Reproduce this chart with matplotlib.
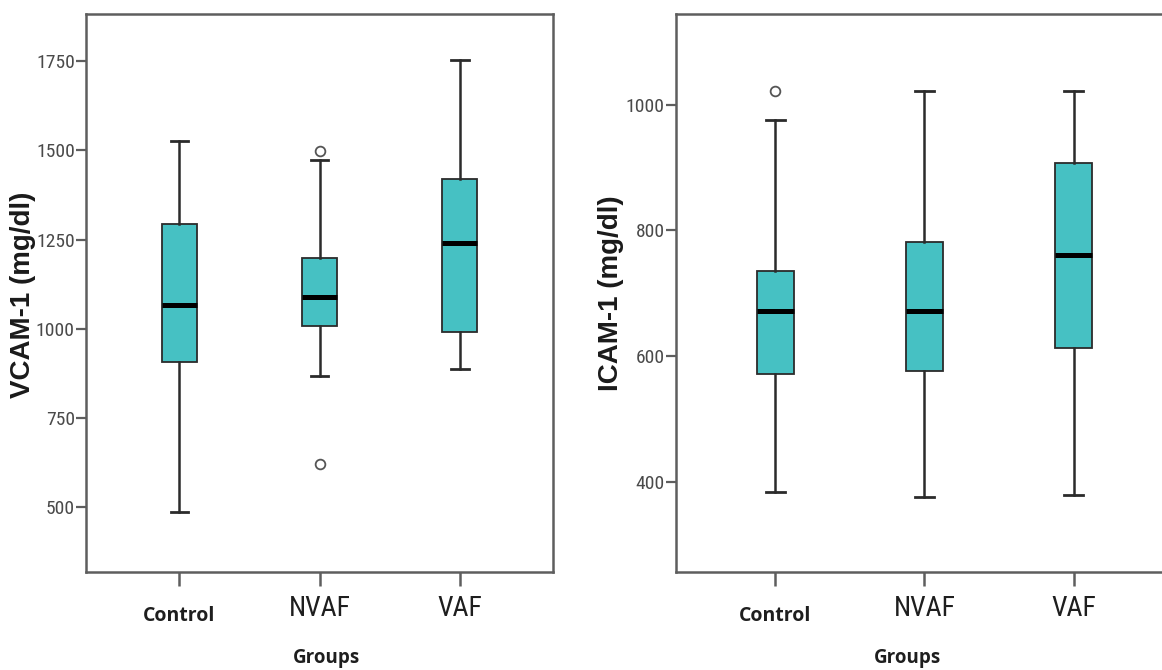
import matplotlib
matplotlib.use("Agg")
import os
import matplotlib.pyplot as plt
from matplotlib import font_manager
from matplotlib.font_manager import FontProperties

# ---------------- data ----------------
groups = ["Control", "NVAF", "VAF"]

vcam_whislo = [486, 868, 887]
vcam_q1 = [908, 1008, 990]
vcam_med = [1067, 1090, 1242]
vcam_q3 = [1294, 1198, 1419]
vcam_whishi = [1527, 1473, 1753]
vcam_fliers = [[], [1497, 622], []]

icam_whislo = [384, 375, 379]
icam_q1 = [571, 576, 612]
icam_med = [671, 672, 760]
icam_q3 = [736, 782, 908]
icam_whishi = [976, 1022, 1022]
icam_fliers = [[1022], [], []]

vcam_ticks = [500, 750, 1000, 1250, 1500, 1750]
icam_ticks = [400, 600, 800, 1000]

# ---------------- fonts ----------------
ttf = font_manager.fontManager.ttflist
available = {f.name for f in ttf}


def pick(*names):
    for n in names:
        if n in available:
            return n
    return "DejaVu Sans"


def narrow_file():
    files = [f.fname for f in ttf]
    bad = ("bold", "italic", "oblique", "light", "thin", "medium", "black")
    prefs = [
        lambda b: "liberationsansnarrow-regular" in b,
        lambda b: "robotocondensed-regular" in b,
        lambda b: "condensed" in b and "roboto" in b and not any(k in b for k in bad),
        lambda b: "opensans" in b and "condensed" in b and not any(k in b for k in bad),
        lambda b: b.startswith("dejavusanscondensed."),
        lambda b: "narrow" in b and not any(k in b for k in bad),
        lambda b: "condensed" in b and not any(k in b for k in bad),
    ]
    for p in prefs:
        for fn in files:
            b = os.path.basename(fn).lower().replace(" ", "").replace("_", "")
            if p(b):
                return fn
    return None


NFILE = narrow_file()


def narrow(size):
    if NFILE:
        return FontProperties(fname=NFILE, size=size)
    return FontProperties(family=pick("Liberation Sans", "DejaVu Sans"),
                          stretch="condensed", size=size)


ARIAL = pick("Liberation Sans", "Arial", "DejaVu Sans")
CALIBRI = pick("Open Sans", "Lato", "DejaVu Sans")

FILL = "#46C1C3"
EDGE = "#2b2b2b"
FRAME = "#5e5e5e"


def make_stats(lo, q1, med, q3, hi, fl):
    return [dict(whislo=lo[i], q1=q1[i], med=med[i], q3=q3[i], whishi=hi[i],
                 fliers=fl[i], label=groups[i]) for i in range(len(lo))]


fig = plt.figure(figsize=(11.62, 6.70), dpi=100)

H = 670.0
W = 1162.0


def axes_px(x0, x1, y0, y1):
    return fig.add_axes([x0 / W, 1 - y1 / H, (x1 - x0) / W, (y1 - y0) / H])


ax1 = axes_px(86, 553, 14, 571.7)
ax2 = axes_px(675.7, 1173, 14.3, 571.7)

panels = [
    (ax1, make_stats(vcam_whislo, vcam_q1, vcam_med, vcam_q3, vcam_whishi, vcam_fliers),
     vcam_ticks, (320, 1882), "VCAM-1 (mg/dl)", (0.514, -0.137), (-0.135, 0.496)),
    (ax2, make_stats(icam_whislo, icam_q1, icam_med, icam_q3, icam_whishi, icam_fliers),
     icam_ticks, (256.5, 1144), "ICAM-1 (mg/dl)", (0.467, -0.137), (-0.130, 0.50)),
]

for ax, stats, yt, ylim, ylab, xlab_pos, ylab_pos in panels:
    ax.bxp(stats, positions=[1, 2, 3], widths=0.25, patch_artist=True,
           boxprops=dict(facecolor=FILL, edgecolor=EDGE, linewidth=1.3),
           medianprops=dict(color="black", linewidth=3.6, solid_capstyle="butt"),
           whiskerprops=dict(color=EDGE, linewidth=1.8),
           capprops=dict(color=EDGE, linewidth=2.0),
           flierprops=dict(marker="o", markersize=7, markerfacecolor="white",
                           markeredgecolor="#555555", markeredgewidth=1.3,
                           linestyle="none"))
    ax.set_xlim(0.333, 3.665)
    ax.set_ylim(*ylim)
    ax.set_yticks(yt)
    ax.set_yticklabels([str(v) for v in yt])
    ax.set_xticks([1, 2, 3])
    ax.set_xticklabels(groups)

    for s in ax.spines.values():
        s.set_color(FRAME)
        s.set_linewidth(1.8)

    ax.tick_params(axis="y", direction="out", length=7, width=1.6, color=FRAME,
                   pad=1, labelcolor="#4a4a4a")
    for lbl in ax.get_yticklabels():
        lbl.set_fontproperties(narrow(14))

    ax.tick_params(axis="x", direction="out", length=10, width=1.8, color=FRAME,
                   pad=7, labelcolor="#1e1e1e")
    ticks = ax.xaxis.get_major_ticks()
    for i, (tk, lbl) in enumerate(zip(ticks, ax.get_xticklabels())):
        if i == 0:
            lbl.set_fontfamily(CALIBRI)
            lbl.set_fontweight("bold")
            lbl.set_fontsize(14)
            tk.set_pad(15)
        else:
            lbl.set_fontproperties(narrow(20))

    ax.set_xlabel("Groups", fontfamily=CALIBRI, fontweight="bold", fontsize=13.5,
                  color="#1e1e1e")
    ax.xaxis.set_label_coords(*xlab_pos)
    ax.xaxis.label.set_va("top")

    ax.set_ylabel(ylab, fontfamily=ARIAL, fontweight="bold", fontsize=20,
                  color="#1a1a1a")
    ax.yaxis.set_label_coords(*ylab_pos)
    ax.yaxis.label.set_va("center")

fig.savefig("out.png", dpi=100)
